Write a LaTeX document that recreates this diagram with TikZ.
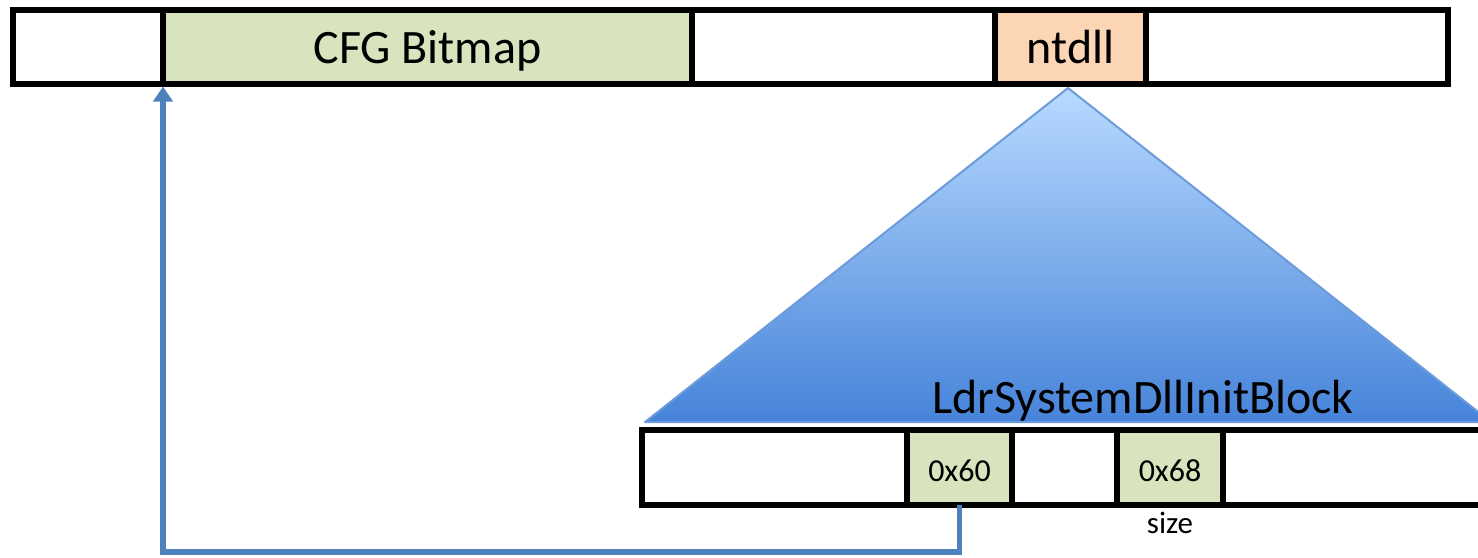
\documentclass[tikz,border=0pt]{standalone}
\usepackage{fontspec}
\setmainfont{Carlito}
\usetikzlibrary{arrows.meta}
\definecolor{cfggreen}{HTML}{D7E4BD}
\definecolor{ntpeach}{HTML}{FCD5B5}
\definecolor{connblue}{HTML}{4F81BD}
\definecolor{tritop}{HTML}{B8DAFF}
\definecolor{tribot}{HTML}{4683D9}
\definecolor{triedge}{HTML}{6C9BDC}
\begin{document}
\begin{tikzpicture}[x=1pt,y=-1pt,
  cell/.style={draw=black, line width=6pt, inner sep=0pt, outer sep=0pt},
  topcell/.style={cell, minimum height=74pt, text height=34pt, text depth=0pt},
  botcell/.style={cell, minimum height=75pt, text height=27pt, text depth=0pt},
  big/.style={font=\fontsize{48}{52}\selectfont},
  small/.style={font=\fontsize{32}{36}\selectfont},
  conn/.style={draw=connblue, line width=5.5pt}]
\useasboundingbox (0,0) rectangle (1478,557);
% triangle
\begin{scope}
\clip (0,0) rectangle (1478,557);
\shade[top color=tritop, bottom color=tribot] (1068,88) -- (645,422) -- (1491,422) -- cycle;
\draw[triedge, line width=2pt, line join=round] (1068,88) -- (645,422) -- (1491,422) -- cycle;
\end{scope}
% top bar
\node[topcell, minimum width=150.5pt] (t1) at (87.75,46.5) {};
\node[topcell, fill=cfggreen, minimum width=529pt, big] (cfg) at (427.5,46.5) {CFG Bitmap};
\node[topcell, minimum width=303pt] (t3) at (843.5,46.5) {};
\node[topcell, fill=ntpeach, minimum width=151pt, big] (nt) at (1070.5,46.5) {ntdll};
\node[topcell, minimum width=302pt] (t5) at (1297,46.5) {};
% label
\node[big, anchor=base] (ldr) at (1143,413) {LdrSystemDllInitBlock};
% bottom bar
\begin{scope}
\clip (0,0) rectangle (1478,557);
\node[botcell, minimum width=265pt] (b1) at (774.5,467.5) {};
\node[botcell, fill=cfggreen, minimum width=105pt, small] (b60) at (959.5,467.5) {0x60};
\node[botcell, minimum width=105pt] (b3) at (1064.5,467.5) {};
\node[botcell, fill=cfggreen, minimum width=106pt, small] (b68) at (1170,467.5) {0x68};
\node[botcell, minimum width=272pt] (b5) at (1359,467.5) {};
\end{scope}
\node[font=\fontsize{31}{34}\selectfont, anchor=base, yshift=-28pt] (size) at (b68.south) {size};
% connector
\draw[conn, -{Triangle[width=19pt,length=15pt]}, shorten >=3pt]
  (b60.south) -- (b60.south |- 0,552) -- (cfg.south west |- 0,552) -- (cfg.south west);
\end{tikzpicture}
\end{document}
